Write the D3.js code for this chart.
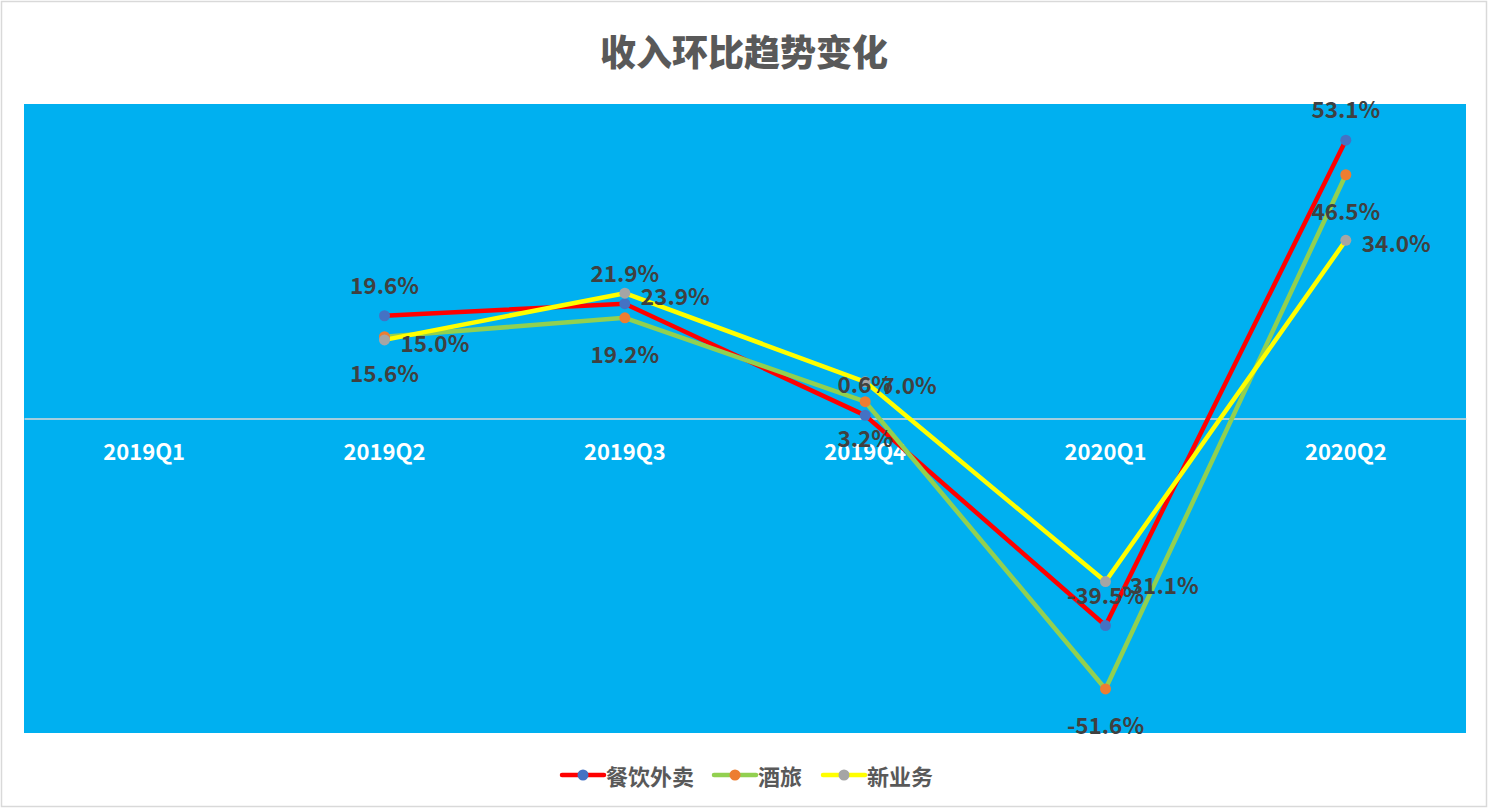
<!DOCTYPE html>
<html><head><meta charset="utf-8">
<script src="https://cdn.jsdelivr.net/npm/d3@7"></script>
<style>body{margin:0;background:#fff;}svg{display:block;}</style>
</head><body>
<script>
const categories = ["2019Q1","2019Q2","2019Q3","2019Q4","2020Q1","2020Q2"];
const seriesNames = ["餐饮外卖","酒旅","新业务"];
const foodValues = [null, 19.6, 21.9, 0.6, -39.5, 53.1];
const travelValues = [null, 15.6, 19.2, 3.2, -51.6, 46.5];
const newBizValues = [null, 15.0, 23.9, 7.0, -31.1, 34.0];
const yDomain = [-60, 60];

const W = 1488, H = 808;
const plot = {left: 24, right: 1466, top: 104, bottom: 733};
const lineColors = ["#FF0000", "#92D050", "#FFFF00"];
const markerColors = ["#4472C4", "#ED7D31", "#A5A5A5"];
const labelPos = ["above", "below", "right"];
const series = [foodValues, travelValues, newBizValues].map((v, i) => ({
  name: seriesNames[i], values: v, line: lineColors[i], marker: markerColors[i], pos: labelPos[i]
}));
const FONT = "'Noto Sans CJK SC', sans-serif";

const svg = d3.select("body").append("svg").attr("width", W).attr("height", H);
svg.append("rect").attr("x", 1.5).attr("y", 1.5).attr("width", W - 3).attr("height", H - 3)
  .attr("fill", "#fff").attr("stroke", "#D9D9D9").attr("stroke-width", 1.5);

svg.append("text").attr("x", W / 2).attr("y", 50).attr("text-anchor", "middle")
  .attr("dominant-baseline", "central")
  .attr("font-family", FONT).attr("font-weight", "900")
  .attr("font-size", 36).attr("fill", "#595959").text("收入环比趋势变化");

svg.append("rect").attr("x", plot.left).attr("y", plot.top)
  .attr("width", plot.right - plot.left).attr("height", plot.bottom - plot.top).attr("fill", "#00B0F0");

const x = d3.scaleBand().domain(categories).range([plot.left, plot.right]);
const y = d3.scaleLinear().domain(yDomain).range([plot.bottom, plot.top]);
const cx = c => x(c) + x.bandwidth() / 2;

// zero axis with category labels
const xAxis = d3.axisBottom(x).tickSize(0).tickPadding(0);
const ax = svg.append("g").attr("transform", `translate(0,${y(0)})`).call(xAxis);
ax.select(".domain").attr("stroke", "#D9D9D9").attr("stroke-width", 1.5);
ax.selectAll("text").attr("font-family", FONT).attr("font-weight", "bold")
  .attr("font-size", 22).attr("fill", "#FFFFFF").attr("y", 31).attr("dy", null)
  .attr("dominant-baseline", "central");

const line = d3.line().defined(d => d.v != null).x(d => cx(d.c)).y(d => y(d.v));
series.forEach(s => {
  const pts = categories.map((c, i) => ({c, v: s.values[i]}));
  svg.append("path").datum(pts).attr("d", line).attr("fill", "none")
    .attr("stroke", s.line).attr("stroke-width", 4.5).attr("stroke-linejoin", "round").attr("stroke-linecap", "round");
});
series.forEach(s => {
  const pts = categories.map((c, i) => ({c, v: s.values[i]})).filter(d => d.v != null);
  svg.append("g").selectAll("circle").data(pts).join("circle")
    .attr("cx", d => cx(d.c)).attr("cy", d => y(d.v)).attr("r", 5.5).attr("fill", s.marker);
});
series.forEach(s => {
  const pts = categories.map((c, i) => ({c, v: s.values[i]})).filter(d => d.v != null);
  svg.append("g").selectAll("text").data(pts).join("text")
    .attr("x", d => s.pos === "right" ? cx(d.c) + 16 : cx(d.c))
    .attr("y", d => s.pos === "above" ? y(d.v) - 32 : s.pos === "below" ? y(d.v) + 35 : y(d.v) + 2)
    .attr("text-anchor", s.pos === "right" ? "start" : "middle")
    .attr("dominant-baseline", "central")
    .attr("font-family", FONT).attr("font-weight", "bold")
    .attr("font-size", 22.5).attr("fill", "#404040")
    .text(d => d.v.toFixed(1) + "%");
});

// legend
const legendX = [562, 714, 823];
const lg = svg.append("g");
series.forEach((s, i) => {
  const g = lg.append("g").attr("transform", `translate(${legendX[i]},775)`);
  g.append("line").attr("x1", 0).attr("x2", 42).attr("stroke", s.line).attr("stroke-width", 4.5).attr("stroke-linecap", "round");
  g.append("circle").attr("cx", 21).attr("r", 5.5).attr("fill", s.marker);
  g.append("text").attr("x", 44).attr("dominant-baseline", "central")
    .attr("font-family", FONT).attr("font-weight", "bold")
    .attr("font-size", 22).attr("fill", "#595959").text(s.name);
});
</script>
</body></html>
